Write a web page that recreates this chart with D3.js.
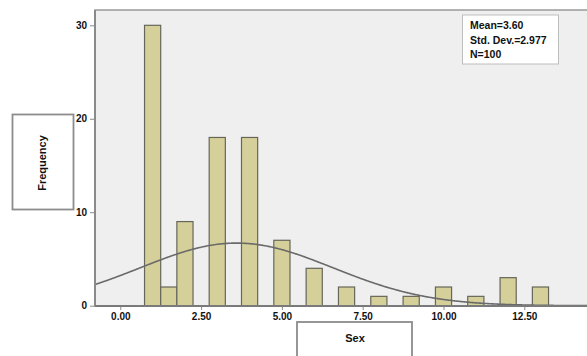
<!DOCTYPE html>
<html><head><meta charset="utf-8">
<script src="https://cdn.jsdelivr.net/npm/d3@7"></script>
<style>html,body{margin:0;padding:0;background:#fff;}svg{display:block;}</style>
</head><body>
<svg id="c" width="587" height="356"></svg>
<script>
const binCenters = [1, 1.5, 2, 3, 4, 5, 6, 7, 8, 9, 10, 11, 12, 13];
const frequencies = [30, 2, 9, 18, 18, 7, 4, 2, 1, 1, 2, 1, 3, 2];
const binWidth = 0.5;
const xTicks = [0, 2.5, 5, 7.5, 10, 12.5];
const yTicks = [0, 10, 20, 30];
const statLines = ["Mean=3.60", "Std. Dev.=2.977", "N=100"];
const mean = 3.60, sd = 2.977, n = 100;

const svg = d3.select("#c");
const font = "'Liberation Sans', Arial, sans-serif";
const plot = {left: 95, top: 10, right: 600, bottom: 306};

const x = d3.scaleLinear().domain([0, 12.5]).range([120.3, 524.3]);
const y = d3.scaleLinear().domain([0, 30]).range([305.7, 25.3]);

// plot background
svg.append("rect").attr("x", plot.left).attr("y", plot.top)
  .attr("width", plot.right - plot.left).attr("height", plot.bottom - plot.top)
  .attr("fill", "#efefef").attr("stroke", "#9a9a9a").attr("stroke-width", 1.5);

// bars
svg.append("g").selectAll("rect").data(binCenters).join("rect")
  .attr("x", (d) => x(d - binWidth / 2))
  .attr("width", (d) => x(d + binWidth / 2) - x(d - binWidth / 2))
  .attr("y", (d, i) => y(frequencies[i]))
  .attr("height", (d, i) => y(0) - y(frequencies[i]))
  .attr("fill", "#d5d099").attr("stroke", "#66665a").attr("stroke-width", 1.2);

// normal curve
const pdf = (v) => Math.exp(-0.5 * Math.pow((v - mean) / sd, 2)) / (sd * Math.sqrt(2 * Math.PI));
const xs = d3.range(x.invert(plot.left), x.invert(587) + 0.05, 0.05);
svg.append("path").datum(xs)
  .attr("d", d3.line().x((d) => x(d)).y((d) => y(n * binWidth * pdf(d))).curve(d3.curveBasis))
  .attr("fill", "none").attr("stroke", "#6a6a6a").attr("stroke-width", 1.6);

// axes
const yAxis = svg.append("g").attr("transform", `translate(${plot.left},0)`)
  .call(d3.axisLeft(y).tickValues(yTicks).tickFormat(d3.format("d")).tickSize(5).tickPadding(3));
yAxis.select(".domain").remove();
yAxis.selectAll("line").attr("stroke", "#8a8a8a");
yAxis.selectAll("text").attr("font-family", font).attr("font-weight", "bold").attr("font-size", 10).attr("fill", "#111");
svg.append("line").attr("x1", plot.left).attr("x2", plot.left).attr("y1", plot.top).attr("y2", plot.bottom)
  .attr("stroke", "#8a8a8a").attr("stroke-width", 2);

const xAxis = svg.append("g").attr("transform", `translate(0,${plot.bottom})`)
  .call(d3.axisBottom(x).tickValues(xTicks).tickFormat(d3.format(".2f")).tickSize(4).tickPadding(3));
xAxis.select(".domain").remove();
xAxis.selectAll("line").attr("stroke", "#8a8a8a");
xAxis.selectAll("text").attr("font-family", font).attr("font-weight", "bold").attr("font-size", 10).attr("fill", "#111");
svg.append("line").attr("x1", plot.left).attr("x2", 587).attr("y1", plot.bottom).attr("y2", plot.bottom)
  .attr("stroke", "#7a7a7a").attr("stroke-width", 2);

// stats box
svg.append("rect").attr("x", 462.5).attr("y", 15).attr("width", 96).attr("height", 49)
  .attr("fill", "#fff").attr("stroke", "#bdbdbd").attr("stroke-width", 1);
svg.append("g").selectAll("text").data(statLines).join("text")
  .attr("x", 470).attr("y", (d, i) => 29 + i * 14.5)
  .attr("font-family", font).attr("font-weight", "bold").attr("font-size", 10.5).attr("fill", "#111")
  .text((d) => d);

// Frequency label box
svg.append("rect").attr("x", 12.5).attr("y", 114.5).attr("width", 61).attr("height", 95)
  .attr("fill", "#fff").attr("stroke", "#8c8c8c").attr("stroke-width", 1.8);
svg.append("text").attr("transform", "translate(46,163) rotate(-90)")
  .attr("text-anchor", "middle").attr("font-family", font).attr("font-weight", "bold")
  .attr("font-size", 11).attr("fill", "#111").text("Frequency");

// Sex label box
svg.append("rect").attr("x", 297).attr("y", 322).attr("width", 115).attr("height", 40)
  .attr("fill", "#fff").attr("stroke", "#8c8c8c").attr("stroke-width", 1.8);
svg.append("text").attr("x", 355).attr("y", 342).attr("text-anchor", "middle")
  .attr("font-family", font).attr("font-weight", "bold").attr("font-size", 11).attr("fill", "#111").text("Sex");
</script>
</body></html>
